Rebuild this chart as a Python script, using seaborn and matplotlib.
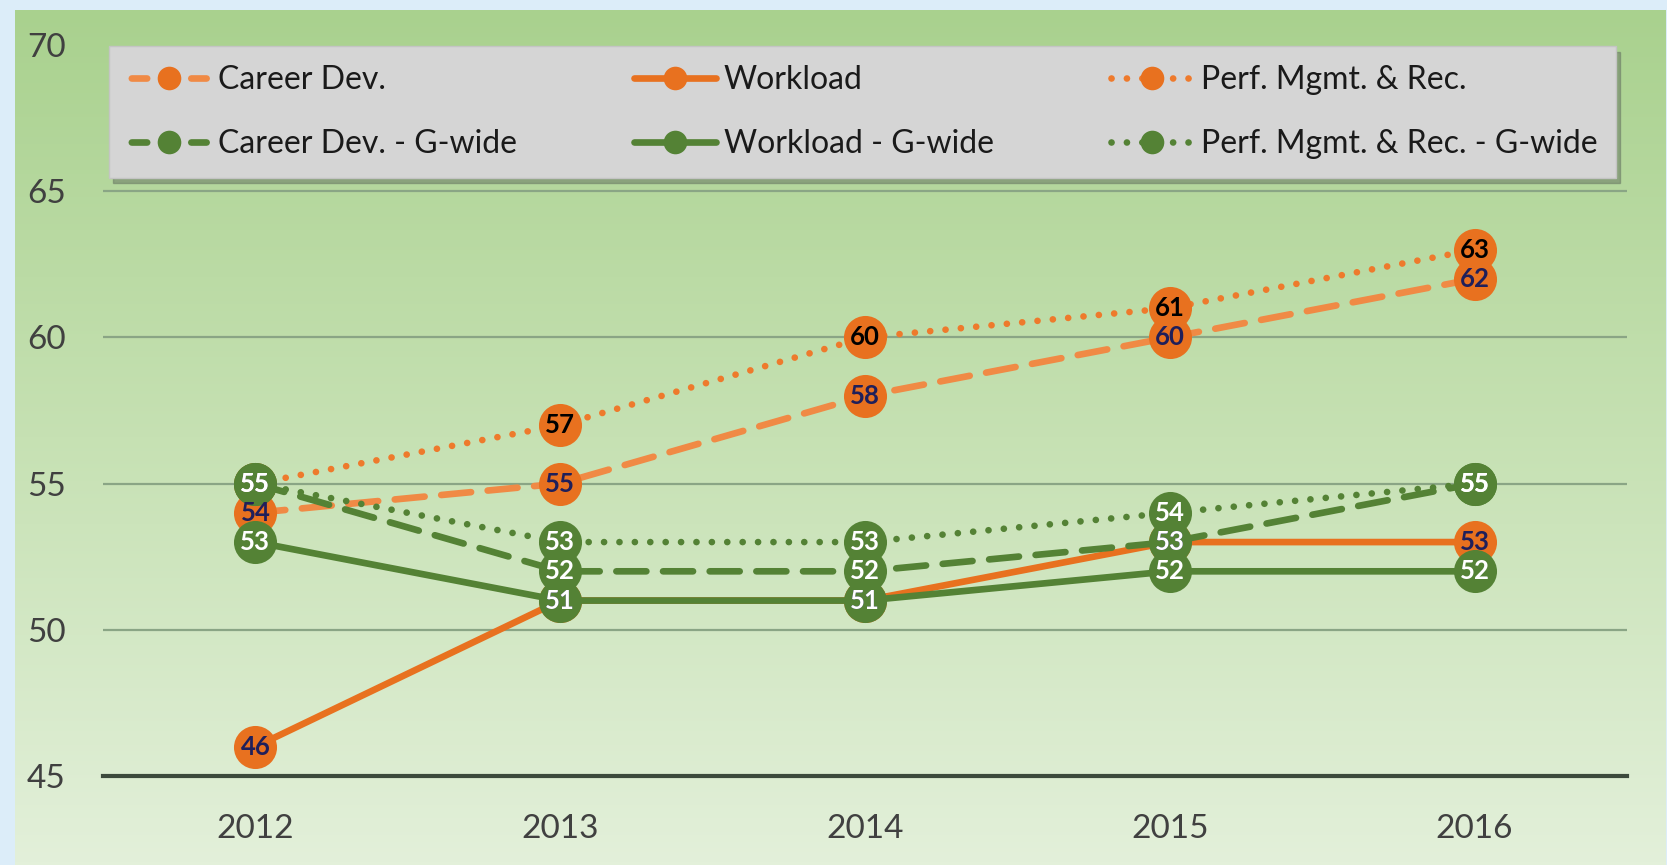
import numpy as np
import pandas as pd
import matplotlib
matplotlib.use("Agg")
import matplotlib.pyplot as plt
import seaborn as sns
from matplotlib.colors import LinearSegmentedColormap
from matplotlib.lines import Line2D

years = [2012, 2013, 2014, 2015, 2016]
career_dev = [54, 55, 58, 60, 62]
workload = [46, 51, 51, 53, 53]
perf_mgmt = [55, 57, 60, 61, 63]
career_dev_g = [55, 52, 52, 53, 55]
workload_g = [53, 51, 51, 52, 52]
perf_mgmt_g = [55, 53, 53, 54, 55]
y_ticks = [45, 50, 55, 60, 65, 70]

series_names = ["Career Dev.", "Workload", "Perf. Mgmt. & Rec.",
                "Career Dev. - G-wide", "Workload - G-wide", "Perf. Mgmt. & Rec. - G-wide"]
series_values = [career_dev, workload, perf_mgmt, career_dev_g, workload_g, perf_mgmt_g]

ORANGE_LINE = ["#F08A45", "#E8711F", "#EE7A2C"]
ORANGE_MARK = "#E8711F"
GREEN = "#548235"
styles = [(0, (4.5, 2.5)), "-", (0, (0.01, 2.3))]
legend_styles = [(8.42, (2.3, 6.62)), "-", (0, (0.01, 2.3))]
label_colors = ["#1F1F5A", "#1F1F5A", "#000000"]

sns.set_theme(style="white")
plt.rcParams['font.family'] = ['Lato', 'DejaVu Sans']

fig = plt.figure(figsize=(16.67, 8.65), dpi=100)
fig.patch.set_facecolor("#dcedf9")

# background gradient panel
bg = fig.add_axes([15 / 1667, 0, 1 - 17 / 1667, 1 - 10 / 865], zorder=-10)
grad = np.linspace(0, 1, 256).reshape(-1, 1)
cmap = LinearSegmentedColormap.from_list("g", ["#a9d18e", "#c6e1b3", "#e3f0da"])
bg.imshow(grad, aspect="auto", cmap=cmap, extent=[0, 1, 0, 1], origin="upper")
bg.set_axis_off()

ax = fig.add_axes([103 / 1667, 1 - 776 / 865, (1627 - 103) / 1667, (776 - 45) / 865])
ax.set_facecolor("none")

lw = 4.8
ms = 31
for i in range(6):
    vals = series_values[i]
    is_green = i >= 3
    k = i % 3
    col = GREEN if is_green else ORANGE_LINE[k]
    mcol = GREEN if is_green else ORANGE_MARK
    df = pd.DataFrame({"year": years, "value": vals})
    sns.lineplot(data=df, x="year", y="value", ax=ax, color=col, linewidth=lw,
                 linestyle=styles[k], marker="o", markersize=ms,
                 markerfacecolor=mcol, markeredgecolor=mcol, markeredgewidth=0,
                 dash_capstyle="round", solid_capstyle="round", zorder=3 + i,
                 label=series_names[i], legend=False)

# data labels on top
for i in range(6):
    vals = series_values[i]
    is_green = i >= 3
    tc = "white" if is_green else label_colors[i % 3]
    for x, v in zip(years, vals):
        ax.text(x, v, f"{v}", ha="center", va="center", fontsize=18.5,
                fontweight="bold", color=tc, zorder=20 + i)

ax.set_xlim(2011.5, 2016.5)
ax.set_ylim(45, 70)
ax.set_xticks(years)
ax.set_xticklabels([str(y) for y in years])
ax.set_yticks(y_ticks)
for yv in y_ticks[1:-1]:
    ax.axhline(yv, color="#8aa585", linewidth=1.6, zorder=1)
for s in ["top", "right", "left"]:
    ax.spines[s].set_visible(False)
ax.spines["bottom"].set_color("#3c4a3c")
ax.spines["bottom"].set_linewidth(3)
ax.spines["bottom"].set_zorder(2)
ax.tick_params(axis="both", length=0, labelsize=24, colors="#404040")
ax.tick_params(axis="y", pad=27)
ax.tick_params(axis="x", pad=27)
ax.set_xlabel("")
ax.set_ylabel("")

# legend
leg_handles = []
for i in range(6):
    is_green = i >= 3
    k = i % 3
    col = GREEN if is_green else ORANGE_LINE[k]
    mcol = GREEN if is_green else ORANGE_MARK
    leg_handles.append(Line2D([0], [0], color=col, linewidth=lw, linestyle=legend_styles[k],
                              marker="o", markersize=17, markerfacecolor=mcol,
                              markeredgewidth=0, dash_capstyle="round"))
order = [0, 3, 1, 4, 2, 5]
leg = ax.legend([leg_handles[j] for j in order], [series_names[j] for j in order],
                ncol=3, loc="upper left", bbox_to_anchor=(0.004, 0.9986, 0.989, 0.0),
                mode="expand", borderaxespad=0, frameon=True, fancybox=False,
                facecolor="#d5d5d5", edgecolor="#c4c4c4", framealpha=1,
                shadow={"ox": 3, "oy": -4, "color": "#6f8068", "alpha": 0.6},
                fontsize=23, handlelength=2.55, handletextpad=0.25,
                labelspacing=1.05, borderpad=0.6, columnspacing=1.0,
                labelcolor="#1a1a1a", numpoints=1)
leg.set_zorder(30)

fig.savefig("out.png", dpi=100, facecolor=fig.get_facecolor())
